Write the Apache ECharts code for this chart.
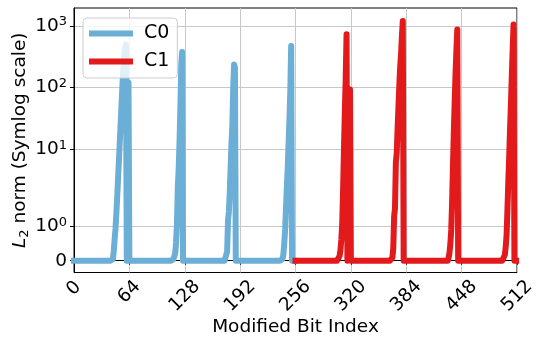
<!DOCTYPE html>
<html>
<head>
<meta charset="utf-8">
<script src="https://cdn.jsdelivr.net/npm/echarts@6/dist/echarts.min.js"></script>
<style>
  html, body { margin: 0; padding: 0; background: #ffffff; }
  #chart { width: 537px; height: 339px; }
</style>
</head>
<body>
<div id="chart"></div>
<script>
// ---- data -------------------------------------------------------------
const seriesNames = ['C0', 'C1'];
const bitsPerBlock = 64;
const tailStart = 44;           // bits below this in every block sit at 0
// L2 norm for bits 44..63 of each 64-bit block
const c0Tails = [
  [0, 0.05, 0.3, 0.63, 0.95, 1.4, 1.9, 3.5, 6.9, 13.8, 27.5, 55, 110, 195, 309, 436, 501, 0, 0, 120],
  [0, 0, 0, 0, 0, 0, 0, 0.05, 0.1, 0.22, 0.54, 1.08, 2.45, 4.9, 13.8, 49, 245, 380, 0, 0],
  [0, 0, 0, 0, 0, 0.27, 1.17, 1.44, 1.98, 4.9, 12.3, 24.5, 97.7, 237, 211, 0, 0, 0, 0, 0],
  [0, 0, 0, 0, 0, 0.05, 0.18, 0.5, 0.9, 1.53, 2.45, 4.9, 12.3, 30.9, 87, 473, 0, 0, 0, 0]
];
const c1Tails = [
  [0, 0, 0, 0, 0, 0, 0.05, 0.14, 0.32, 0.63, 1.08, 2.19, 9.77, 38.9, 138, 733, 0, 0, 0, 93],
  [0, 0, 0, 0, 0.09, 0.36, 1.3, 1.53, 6.16, 8.71, 21.9, 49, 110, 219, 347, 692, 1202, 0, 0, 0],
  [0, 0, 0, 0, 0, 0.09, 0.23, 0.5, 0.9, 1.71, 5.49, 19.5, 61.6, 174, 412, 881, 0, 0, 0, 0],
  [0, 0, 0, 0, 0, 0.05, 0.18, 0.41, 0.77, 1.53, 3.09, 7.76, 21.9, 54.9, 155, 412, 1059, 0, 0, 0]
];
const yTickValues = [0, 1, 10, 100, 1000];
const yTickExponents = ['', '0', '1', '2', '3'];
const xTickStep = 64;
const xMax = 512;

// ---- symmetric log transform (linthresh 2, linscale 1, base 10) -------
const linthresh = 2, linscale = 1, logBase = 10;
const linscaleAdj = linscale / (1 - 1 / logBase);
function symlog(v) {
  const a = Math.abs(v);
  if (a <= linthresh) return v * linscaleAdj;
  return Math.sign(v) * linthresh * (linscaleAdj + Math.log(a / linthresh) / Math.log(logBase));
}

function buildSeries(tails, firstBit) {
  const pts = [];
  tails.forEach((tail, b) => {
    for (let r = 0; r < bitsPerBlock; r++) {
      const v = r < tailStart ? 0 : tail[r - tailStart];
      pts.push([firstBit + b * bitsPerBlock + r, symlog(v)]);
    }
  });
  return pts;
}

const c0Data = buildSeries(c0Tails, 0);
const c1Data = buildSeries(c1Tails, c0Tails.length * bitsPerBlock);

const yTickPos = yTickValues.map(symlog);

// ---- chart ------------------------------------------------------------
const FONT = 'DejaVu Sans';
const BLUE = '#6baed6';
const RED = '#e31a1c';

const chart = echarts.init(document.getElementById('chart'), null, { renderer: 'canvas' });

const option = {
  animation: false,
  textStyle: { fontFamily: FONT, color: '#000' },
  grid: {
    left: 74, top: 8, width: 443, height: 264.5,
    outerBoundsMode: 'none', containLabel: false,
    show: true, borderColor: '#000', borderWidth: 1, backgroundColor: 'transparent'
  },
  legend: {
    data: seriesNames,
    orient: 'vertical',
    left: 83, top: 18,
    icon: 'rect',
    itemWidth: 44, itemHeight: 6,
    itemGap: 9,
    padding: [6, 8, 7, 6],
    backgroundColor: 'rgba(255,255,255,0.8)',
    borderColor: '#cccccc', borderWidth: 1, borderRadius: 4,
    textStyle: { fontFamily: FONT, fontSize: 19, color: '#000', padding: [0, 0, 0, 6] }
  },
  xAxis: {
    type: 'value', min: 0, max: xMax, interval: xTickStep,
    name: 'Modified Bit Index', nameLocation: 'middle', nameGap: 45.5,
    nameMoveOverlap: false,
    nameTextStyle: { fontFamily: FONT, fontSize: 18.5, color: '#000' },
    axisLine: { show: true, lineStyle: { color: '#000', width: 1 } },
    axisTick: { show: true, inside: false, length: 4, lineStyle: { color: '#000', width: 1 } },
    axisLabel: {
      rotate: 45, margin: 16, align: 'center', verticalAlign: 'middle',
      fontFamily: FONT, fontSize: 18.5, color: '#000',
      formatter: v => {
        const s = String(v);
        return '{d' + s.length + '|' + s + '}';
      },
      rich: {
        d1: { fontFamily: FONT, fontSize: 18.5, color: '#000' },
        d2: { fontFamily: FONT, fontSize: 18.5, color: '#000', padding: [5, 5, 0, 0] },
        d3: { fontFamily: FONT, fontSize: 18.5, color: '#000', padding: [10.6, 10.6, 0, 0] }
      }
    },
    splitLine: { show: true, lineStyle: { color: '#c8c8c8', width: 1 } }
  },
  yAxis: {
    type: 'value', min: -0.383, max: 8.205,
    name: '{it|L}{sub|2}{n| norm (Symlog scale)}',
    nameLocation: 'middle', nameRotate: 90, nameGap: 43,
    nameMoveOverlap: false,
    nameTextStyle: {
      fontFamily: FONT, fontSize: 18.5, color: '#000',
      rich: {
        it: { fontFamily: FONT, fontSize: 18.5, fontStyle: 'italic', color: '#000' },
        sub: { fontFamily: FONT, fontSize: 13, color: '#000', verticalAlign: 'bottom', padding: [8, 0, 0, 0] },
        n: { fontFamily: FONT, fontSize: 18.5, color: '#000' }
      }
    },
    axisLine: { show: true, lineStyle: { color: '#000', width: 1 } },
    axisTick: { show: true, length: 4, customValues: yTickPos, lineStyle: { color: '#000', width: 1 } },
    axisLabel: {
      margin: 7, customValues: yTickPos,
      fontFamily: FONT, fontSize: 18.5, color: '#000',
      formatter: v => {
        let idx = 0, best = Infinity;
        yTickPos.forEach((p, i) => { const d = Math.abs(p - v); if (d < best) { best = d; idx = i; } });
        if (yTickValues[idx] === 0) return '{b|0}';
        return '{b|10}{s|' + yTickExponents[idx] + '}';
      },
      rich: {
        b: { fontFamily: FONT, fontSize: 18.5, color: '#000' },
        s: { fontFamily: FONT, fontSize: 13, color: '#000', verticalAlign: 'top', padding: [0, 0, 8, 0] }
      }
    },
    splitLine: { show: true, lineStyle: { color: '#c8c8c8', width: 1 } }
  },
  series: [
    {
      name: seriesNames[0], type: 'line', data: c0Data,
      showSymbol: false, symbol: 'none', silent: true, clip: true,
      color: BLUE,
      itemStyle: { color: BLUE },
      lineStyle: { color: BLUE, width: 6, cap: 'square', join: 'round' }
    },
    {
      name: seriesNames[1], type: 'line', data: c1Data,
      showSymbol: false, symbol: 'none', silent: true, clip: true,
      color: RED,
      itemStyle: { color: RED },
      lineStyle: { color: RED, width: 6, cap: 'square', join: 'round' }
    }
  ]
};

chart.setOption(option);
</script>
</body>
</html>
